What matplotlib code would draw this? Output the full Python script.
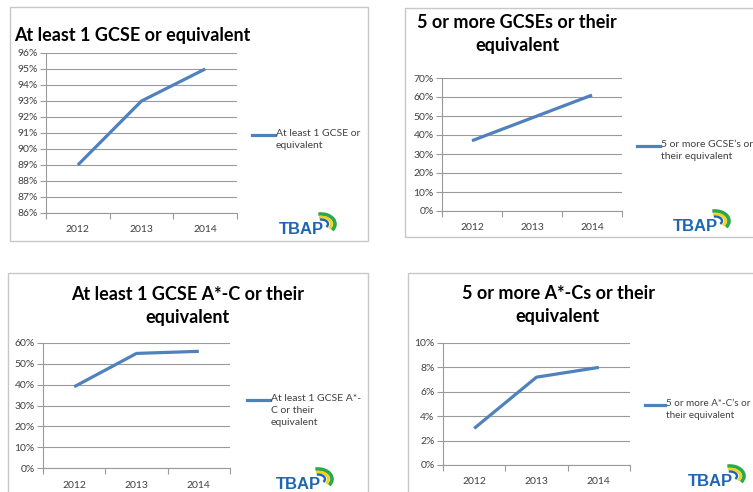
import matplotlib
matplotlib.use("Agg")
import matplotlib.pyplot as plt
from matplotlib.patches import Rectangle, Arc
from matplotlib.ticker import FuncFormatter, FixedLocator

plt.rcParams['font.family'] = ['Lato', 'DejaVu Sans']

years = ['2012', '2013', '2014']

title1 = "At least 1 GCSE or equivalent"
legend1 = "At least 1 GCSE or\nequivalent"
values1 = [89, 93, 95]
yticks1 = list(range(86, 97))

title2 = "5 or more GCSEs or their\nequivalent"
legend2 = "5 or more GCSE\u2019s or\ntheir equivalent"
values2 = [37, 49, 61]
yticks2 = list(range(0, 71, 10))

title3 = "At least 1 GCSE A*-C or their\nequivalent"
legend3 = "At least 1 GCSE A*-\nC or their\nequivalent"
values3 = [39, 55, 56]
yticks3 = list(range(0, 61, 10))

title4 = "5 or more A*-Cs or their\nequivalent"
legend4 = "5 or more A*-C\u2019s or\ntheir equivalent"
values4 = [3, 7.2, 8]
yticks4 = list(range(0, 11, 2))

W, H = 753, 492
fig = plt.figure(figsize=(W / 100, H / 100), dpi=100)
fig.patch.set_facecolor('white')

LINE = '#4F81BD'
GRID = '#9a9a9a'
TXT = '#404040'


def fx(x):
    return x / W


def fy(y):
    return 1 - y / H


def border(x0, y0, x1, y1):
    fig.patches.append(Rectangle((fx(x0), fy(y1)), fx(x1) - fx(x0), fy(y0) - fy(y1),
                                 transform=fig.transFigure, fill=False,
                                 edgecolor='#c8c8c8', linewidth=1.0, zorder=0))


def logo(x, y):
    # x,y: pixel position of left-baseline of "TBAP"
    fig.text(fx(x), fy(y), "TBAP", fontsize=12, fontweight='bold', color='#1f66b0',
             ha='left', va='baseline', family=['Liberation Sans', 'DejaVu Sans'])
    # swoosh decoration
    cx, cy = x + 42, y - 10
    for (w, h, col, lw) in [(28, 20, '#2aa84a', 2.6), (21, 14, '#f2d21b', 2.0), (14, 9, '#1f66b0', 1.7)]:
        a = Arc((fx(cx), fy(cy)), w / W, h / H, theta1=-40, theta2=100,
                transform=fig.transFigure, color=col, lw=lw)
        fig.patches.append(a)


def panel(box, ax_px, values, yticks, fmt, title, title_xy, title_ha, title_size,
          leg_x, leg_y, legtext, leg_size=7.5):
    border(*box)
    l, t, r, b = ax_px
    ax = fig.add_axes([fx(l), fy(b), fx(r) - fx(l), fy(t) - fy(b)])
    x = list(range(len(years)))
    ax.plot(x, values, color=LINE, lw=2.3, solid_capstyle='butt')
    ax.set_xlim(-0.5, len(years) - 0.5)
    ax.set_ylim(yticks[0], yticks[-1])
    ax.yaxis.set_major_locator(FixedLocator(yticks))
    ax.yaxis.set_major_formatter(FuncFormatter(fmt))
    ax.set_xticks(x)
    ax.set_xticklabels(years)
    ax.set_xticks([i - 0.5 for i in range(len(years) + 1)], minor=True)
    ax.tick_params(axis='x', which='major', length=0, pad=9, labelsize=7.5, labelcolor=TXT)
    ax.tick_params(axis='x', which='minor', length=4, direction='out', color=GRID, width=0.8)
    ax.tick_params(axis='y', which='major', length=4, direction='out', color=GRID, width=0.8,
                   labelsize=7.5, labelcolor=TXT, pad=2)
    ax.grid(axis='y', color=GRID, lw=0.8)
    ax.set_axisbelow(True)
    for s in ['top', 'right']:
        ax.spines[s].set_visible(False)
    for s in ['left', 'bottom']:
        ax.spines[s].set_color(GRID)
        ax.spines[s].set_linewidth(0.8)
    ax.set_facecolor('none')
    # title
    fig.text(fx(title_xy[0]), fy(title_xy[1]), title, ha=title_ha, va='center',
             fontsize=title_size, fontweight='bold', color='black', linespacing=1.4,
             multialignment='center')
    # legend
    lx0, lx1 = leg_x
    fig.lines.append(plt.Line2D([fx(lx0), fx(lx1)], [fy(leg_y), fy(leg_y)],
                                transform=fig.transFigure, color=LINE, lw=2.3))
    fig.text(fx(lx1 + 1), fy(leg_y - 6), legtext, ha='left', va='top', fontsize=leg_size,
             color=TXT, linespacing=1.45)
    return ax


pct = lambda v, p: f"{int(v)}%"

panel((10, 7, 368, 241), (46, 53, 237, 213), values1, yticks1, pct,
      title1, (14, 35), 'left', 13, (252, 275), 135, legend1)
logo(279, 234)

panel((405, 8, 760, 237), (442, 78, 622, 211), values2, yticks2, pct,
      title2, (517, 34), 'center', 13, (637, 660), 146, legend2)
logo(673, 231)

panel((8, 273, 368, 500), (43, 343, 230, 468), values3, yticks3, pct,
      title3, (188, 306), 'center', 13, (247, 270), 400, legend3)
logo(276, 489)

panel((408, 273, 760, 500), (443, 343, 630, 465), values4, yticks4, pct,
      title4, (558, 305), 'center', 13, (645, 665), 405, legend4, leg_size=7.1)
logo(688, 486)

fig.savefig("out.png", dpi=100, facecolor='white')
